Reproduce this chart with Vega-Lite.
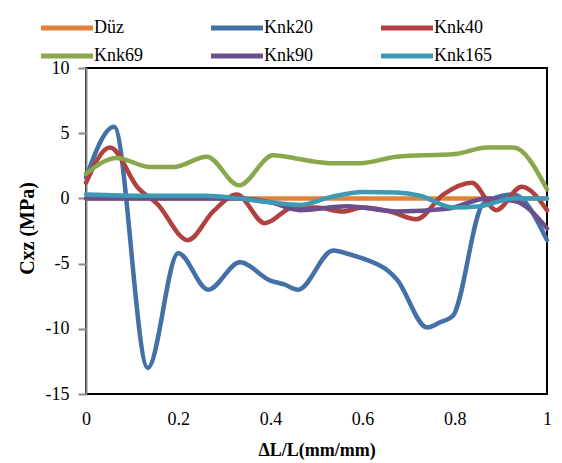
{
  "$schema": "https://vega.github.io/schema/vega-lite/v6.json",
  "width": 461,
  "height": 326,
  "autosize": {"type": "none"},
  "padding": {"left": 86, "top": 68, "right": 15, "bottom": 69},
  "background": "white",
  "config": {
    "font": "Liberation Serif",
    "view": {"stroke": "black", "strokeWidth": 2}
  },
  "data": {
    "values": [
      {"s": "Düz", "x": 0, "y": 0}, {"s": "Düz", "x": 0.2, "y": 0}, {"s": "Düz", "x": 0.4, "y": 0}, {"s": "Düz", "x": 0.6, "y": 0}, {"s": "Düz", "x": 0.8, "y": 0}, {"s": "Düz", "x": 1, "y": 0},
      {"s": "Knk20", "x": 0, "y": 1.6}, {"s": "Knk20", "x": 0.061, "y": 5.5}, {"s": "Knk20", "x": 0.134, "y": -13.0}, {"s": "Knk20", "x": 0.2, "y": -4.2}, {"s": "Knk20", "x": 0.265, "y": -7.0}, {"s": "Knk20", "x": 0.334, "y": -4.9}, {"s": "Knk20", "x": 0.4, "y": -6.3}, {"s": "Knk20", "x": 0.43, "y": -6.6}, {"s": "Knk20", "x": 0.46, "y": -7.0}, {"s": "Knk20", "x": 0.536, "y": -4.0}, {"s": "Knk20", "x": 0.573, "y": -4.3}, {"s": "Knk20", "x": 0.6, "y": -4.6}, {"s": "Knk20", "x": 0.653, "y": -5.5}, {"s": "Knk20", "x": 0.674, "y": -6.2}, {"s": "Knk20", "x": 0.74, "y": -9.9}, {"s": "Knk20", "x": 0.768, "y": -9.5}, {"s": "Knk20", "x": 0.796, "y": -9.0}, {"s": "Knk20", "x": 0.862, "y": -0.4}, {"s": "Knk20", "x": 0.927, "y": 0.3}, {"s": "Knk20", "x": 1, "y": -3.2},
      {"s": "Knk40", "x": 0, "y": 1.2}, {"s": "Knk40", "x": 0.052, "y": 3.9}, {"s": "Knk40", "x": 0.113, "y": 0.8}, {"s": "Knk40", "x": 0.154, "y": -0.4}, {"s": "Knk40", "x": 0.221, "y": -3.2}, {"s": "Knk40", "x": 0.276, "y": -1.0}, {"s": "Knk40", "x": 0.327, "y": 0.3}, {"s": "Knk40", "x": 0.388, "y": -1.9}, {"s": "Knk40", "x": 0.45, "y": -0.7}, {"s": "Knk40", "x": 0.5, "y": -0.7}, {"s": "Knk40", "x": 0.557, "y": -1.0}, {"s": "Knk40", "x": 0.6, "y": -0.7}, {"s": "Knk40", "x": 0.66, "y": -1.0}, {"s": "Knk40", "x": 0.717, "y": -1.6}, {"s": "Knk40", "x": 0.775, "y": 0.3}, {"s": "Knk40", "x": 0.837, "y": 1.2}, {"s": "Knk40", "x": 0.89, "y": -0.9}, {"s": "Knk40", "x": 0.945, "y": 0.9}, {"s": "Knk40", "x": 1, "y": -0.9},
      {"s": "Knk69", "x": 0, "y": 1.9}, {"s": "Knk69", "x": 0.067, "y": 3.1}, {"s": "Knk69", "x": 0.139, "y": 2.4}, {"s": "Knk69", "x": 0.19, "y": 2.4}, {"s": "Knk69", "x": 0.262, "y": 3.2}, {"s": "Knk69", "x": 0.332, "y": 1.0}, {"s": "Knk69", "x": 0.406, "y": 3.3}, {"s": "Knk69", "x": 0.45, "y": 3.1}, {"s": "Knk69", "x": 0.5, "y": 2.8}, {"s": "Knk69", "x": 0.536, "y": 2.7}, {"s": "Knk69", "x": 0.594, "y": 2.7}, {"s": "Knk69", "x": 0.674, "y": 3.2}, {"s": "Knk69", "x": 0.8, "y": 3.4}, {"s": "Knk69", "x": 0.87, "y": 3.9}, {"s": "Knk69", "x": 0.927, "y": 3.9}, {"s": "Knk69", "x": 1, "y": 0.7},
      {"s": "Knk90", "x": 0, "y": 0}, {"s": "Knk90", "x": 0.2, "y": 0}, {"s": "Knk90", "x": 0.33, "y": 0}, {"s": "Knk90", "x": 0.4, "y": -0.3}, {"s": "Knk90", "x": 0.464, "y": -0.9}, {"s": "Knk90", "x": 0.566, "y": -0.6}, {"s": "Knk90", "x": 0.675, "y": -1.0}, {"s": "Knk90", "x": 0.783, "y": -0.8}, {"s": "Knk90", "x": 0.87, "y": 0.0}, {"s": "Knk90", "x": 0.93, "y": -0.2}, {"s": "Knk90", "x": 1, "y": -2.3},
      {"s": "Knk165", "x": 0, "y": 0.3}, {"s": "Knk165", "x": 0.13, "y": 0.2}, {"s": "Knk165", "x": 0.26, "y": 0.2}, {"s": "Knk165", "x": 0.33, "y": 0.0}, {"s": "Knk165", "x": 0.4, "y": -0.3}, {"s": "Knk165", "x": 0.464, "y": -0.5}, {"s": "Knk165", "x": 0.53, "y": 0.1}, {"s": "Knk165", "x": 0.6, "y": 0.5}, {"s": "Knk165", "x": 0.674, "y": 0.45}, {"s": "Knk165", "x": 0.725, "y": 0.2}, {"s": "Knk165", "x": 0.796, "y": -0.7}, {"s": "Knk165", "x": 0.855, "y": -0.6}, {"s": "Knk165", "x": 0.927, "y": 0.0}, {"s": "Knk165", "x": 1, "y": 0.0}
    ]
  },
  "mark": {"type": "line", "interpolate": "monotone", "strokeWidth": 4.5, "strokeCap": "round", "strokeJoin": "round"},
  "encoding": {
    "x": {
      "field": "x", "type": "quantitative",
      "scale": {"domain": [0, 1], "nice": false, "zero": false},
      "axis": {
        "values": [0, 0.2, 0.4, 0.6, 0.8, 1],
        "labelExpr": "toString(datum.value)",
        "grid": false, "domain": false, "ticks": false,
        "labelFont": "Liberation Serif", "labelFontSize": 18, "labelColor": "black",
        "labelPadding": 16, "labelFlush": false,
        "title": "ΔL/L(mm/mm)", "titleFont": "Liberation Serif", "titleFontSize": 18, "titleFontWeight": "bold", "titleColor": "black",
        "titleY": 56, "titleBaseline": "middle"
      }
    },
    "y": {
      "field": "y", "type": "quantitative",
      "scale": {"domain": [-15, 10], "nice": false, "zero": false},
      "axis": {
        "values": [-15, -10, -5, 0, 5, 10],
        "labelExpr": "toString(datum.value)",
        "grid": false, "domain": true, "domainColor": "#888888", "domainWidth": 2,
        "ticks": true, "tickColor": "#888888", "tickSize": 8, "tickWidth": 2,
        "labelFont": "Liberation Serif", "labelFontSize": 18, "labelColor": "black",
        "labelPadding": 9,
        "title": "Cxz (MPa)", "titleFont": "Liberation Serif", "titleFontSize": 20, "titleFontWeight": "bold", "titleColor": "black",
        "titleX": -59, "titleY": 160, "titleBaseline": "middle", "titleAlign": "center", "titleAngle": -90
      }
    },
    "color": {
      "field": "s", "type": "nominal",
      "scale": {
        "domain": ["Düz", "Knk20", "Knk40", "Knk69", "Knk90", "Knk165"],
        "range": ["#E0823A", "#4470A8", "#B0413E", "#89A84B", "#6B4F8D", "#3D9AB5"]
      },
      "legend": {
        "title": null, "orient": "none", "legendX": -28, "legendY": -49,
        "direction": "horizontal", "columns": 3, "columnPadding": 58, "rowPadding": 8,
        "symbolType": "M-4,0H4", "symbolSize": 169, "symbolStrokeWidth": 5,
        "labelFont": "Liberation Serif", "labelFontSize": 18, "labelColor": "black", "labelOffset": 18,
        "gridAlign": "each"
      }
    }
  }
}
